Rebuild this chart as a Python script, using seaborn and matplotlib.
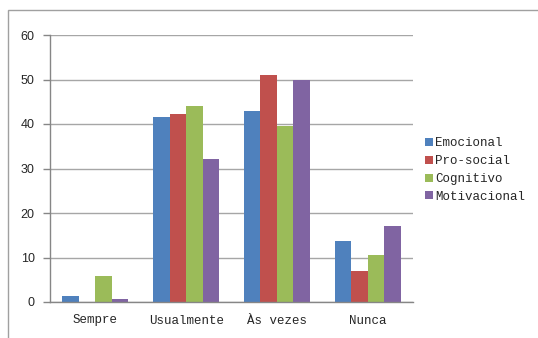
import matplotlib
matplotlib.use("Agg")
import matplotlib.pyplot as plt
import seaborn as sns
import pandas as pd
from matplotlib.patches import Rectangle

categories = ["Sempre", "Usualmente", "Às vezes", "Nunca"]
series = ["Emocional", "Pro-social", "Cognitivo", "Motivacional"]
emocional = [1.4, 41.5, 43.0, 13.7]
pro_social = [0.0, 42.2, 50.9, 7.0]
cognitivo = [5.9, 44.0, 39.5, 10.5]
motivacional = [0.7, 32.2, 50.0, 17.1]
colors = ["#4F81BD", "#C0504D", "#9BBB59", "#8064A2"]
yticks = [0, 10, 20, 30, 40, 50, 60]

rows = []
for s, vals in zip(series, [emocional, pro_social, cognitivo, motivacional]):
    for c, v in zip(categories, vals):
        rows.append({"cat": c, "serie": s, "val": v})
df = pd.DataFrame(rows)

sns.set_style("white")
W, H = 538, 338
fig = plt.figure(figsize=(W / 100, H / 100), dpi=100)
ax = fig.add_axes([50 / W, 1 - 302 / H, (413 - 50) / W, (302 - 35) / H])

sns.barplot(data=df, x="cat", y="val", hue="serie", order=categories,
            hue_order=series, palette=colors, width=0.725, ax=ax,
            saturation=1, linewidth=0, errorbar=None)

ax.set_ylim(0, 60)
ax.set_xlim(-0.5, 3.5)
ax.set_yticks(yticks)
ax.set_yticklabels([str(t) for t in yticks], fontfamily="Liberation Sans", fontsize=9)
ax.yaxis.grid(True, color="#a6a6a6", linewidth=1)
ax.set_axisbelow(True)
ax.set_xlabel("")
ax.set_ylabel("")
ax.set_xticks([0, 1, 2, 3])
ax.set_xticklabels(categories, fontfamily="Liberation Mono", fontsize=9)
ax.tick_params(axis="x", length=0, pad=9)
ax.set_xticks([-0.5, 0.5, 1.5, 2.5, 3.5], minor=True)
ax.tick_params(axis="x", which="minor", length=5, color="#868686", width=1)
ax.tick_params(axis="y", length=5, color="#868686", width=1, pad=6, left=True)
for sp in ["top", "right"]:
    ax.spines[sp].set_visible(False)
for sp in ["left", "bottom"]:
    ax.spines[sp].set_color("#868686")
    ax.spines[sp].set_linewidth(1)

handles, labels = ax.get_legend_handles_labels()
leg = ax.legend(handles, labels, loc="center left", bbox_to_anchor=(419 / W, 1 - 170 / H),
                bbox_transform=fig.transFigure, frameon=False,
                prop={"family": "Liberation Mono", "size": 9},
                handlelength=0.6, handleheight=0.6, handletextpad=0.2,
                labelspacing=0.47, borderpad=0)

fig.patches.append(Rectangle((8 / W, -0.1), 1.2, 1 - 10 / H + 0.1,
                             transform=fig.transFigure, fill=False,
                             edgecolor="#a0a0a0", linewidth=1))

fig.savefig("out.png", dpi=100)
